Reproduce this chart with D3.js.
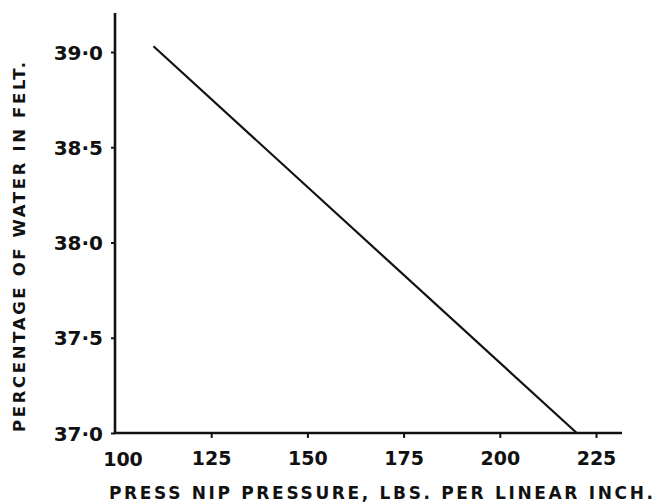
<!DOCTYPE html>
<html>
<head>
<meta charset="utf-8">
<script src="https://cdn.jsdelivr.net/npm/d3@7"></script>
<style>
  html, body { margin: 0; padding: 0; background: #fff; }
  svg { display: block; }
  text { font-family: "DejaVu Sans", sans-serif; fill: #111; }
</style>
</head>
<body>
<svg id="chart" width="657" height="504"></svg>
<script>
// ---- data ----
const pressure = [110, 220];          // lbs per linear inch
const water = [39.03, 37.0];          // percentage of water in felt
const xTicks = [125, 150, 175, 200, 225];
const xTickLabels = ["125", "150", "175", "200", "225"];
const xOriginLabel = "100";
const yTicks = [37.0, 37.5, 38.0, 38.5, 39.0];
const yTickLabels = ["37·0", "37·5", "38·0", "38·5", "39·0"];
const xTitle = "PRESS NIP PRESSURE, LBS. PER LINEAR INCH.";
const yTitle = "PERCENTAGE OF WATER IN FELT.";

const svg = d3.select("#chart");
const x = d3.scaleLinear().domain([100, 225]).range([115, 596]);
const y = d3.scaleLinear().domain([37.0, 39.0]).range([433, 52]);

const ink = "#111";

// axes lines
svg.append("line").attr("x1", x(100)).attr("x2", x(100)).attr("y1", 13).attr("y2", y(37.0))
  .attr("stroke", ink).attr("stroke-width", 2.6);
svg.append("line").attr("x1", x(100) - 1).attr("x2", 622).attr("y1", y(37.0)).attr("y2", y(37.0))
  .attr("stroke", ink).attr("stroke-width", 2.6);

// y ticks
const yAxis = d3.axisLeft(y).tickValues(yTicks).tickSize(4)
  .tickFormat((d, i) => yTickLabels[i]).tickPadding(8);
const gy = svg.append("g").attr("transform", `translate(${x(100)},0)`).call(yAxis);
gy.select(".domain").remove();
gy.selectAll(".tick line").attr("stroke", ink).attr("stroke-width", 2);
gy.selectAll(".tick text").attr("font-size", 20).attr("font-weight", "bold").attr("fill", ink)
  .attr("font-family", "DejaVu Sans, sans-serif").attr("dy", "0.36em");

// x ticks
const xAxis = d3.axisBottom(x).tickValues(xTicks).tickSize(5)
  .tickFormat((d, i) => xTickLabels[i]).tickPadding(14);
const gx = svg.append("g").attr("transform", `translate(0,${y(37.0)})`).call(xAxis);
gx.select(".domain").remove();
gx.selectAll(".tick line").attr("stroke", ink).attr("stroke-width", 2);
gx.selectAll(".tick text").attr("font-size", 19).attr("font-weight", "bold").attr("fill", ink)
  .attr("font-family", "DejaVu Sans, sans-serif");

svg.append("text").attr("x", 123).attr("y", 466).attr("text-anchor", "middle")
  .attr("font-size", 19).attr("font-weight", "bold").text(xOriginLabel);

// data line
const line = d3.line().x(d => x(d[0])).y(d => y(d[1]));
svg.append("path").datum(pressure.map((p, i) => [p, water[i]]))
  .attr("d", line).attr("fill", "none").attr("stroke", ink).attr("stroke-width", 2.2);

// titles
svg.append("text").attr("x", 109).attr("y", 499)
  .attr("font-size", 17).attr("font-weight", "bold")
  .attr("textLength", 544).attr("lengthAdjust", "spacing")
  .text(xTitle);

svg.append("text").attr("transform", "translate(25,432) rotate(-90)")
  .attr("x", 0).attr("y", 0)
  .attr("font-size", 16.5).attr("font-weight", "bold")
  .attr("textLength", 370).attr("lengthAdjust", "spacing")
  .text(yTitle);
</script>
</body>
</html>
